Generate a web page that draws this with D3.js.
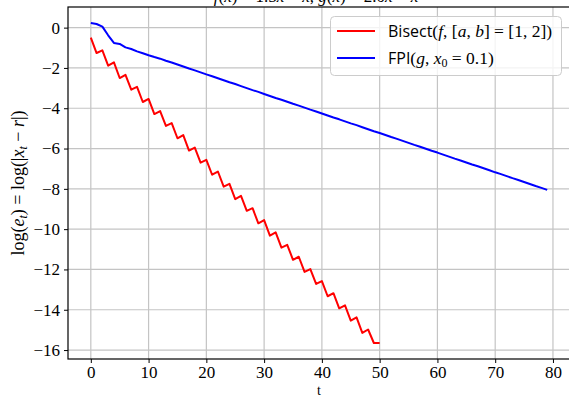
<!DOCTYPE html>
<html><head><meta charset="utf-8">
<script src="https://cdn.jsdelivr.net/npm/d3@7"></script>
<style>
html,body{margin:0;padding:0;background:#fff;}
svg{display:block;}
</style></head>
<body>
<svg id="chart" width="569" height="398"></svg>
<script>
// ---- data ----
const bisectT = d3.range(0, 51);
const bisectLog = [-0.50,-1.26,-1.13,-1.89,-1.72,-2.50,-2.34,-3.08,-2.94,-3.69,
  -3.54,-4.29,-4.14,-4.88,-4.74,-5.49,-5.33,-6.10,-5.95,-6.70,
  -6.56,-7.30,-7.14,-7.89,-7.75,-8.51,-8.35,-9.09,-8.96,-9.71,
  -9.55,-10.32,-10.16,-10.92,-10.78,-11.52,-11.37,-12.12,-11.98,-12.72,
  -12.58,-13.33,-13.18,-13.93,-13.78,-14.54,-14.38,-15.15,-14.98,-15.65,-15.65];
const fpiT = d3.range(0, 80);
const fpiLog = [0.23,0.18,0.05,-0.38,-0.76,-0.81,-0.98,-1.06,-1.18,-1.27,
  -1.37,-1.46,-1.54,-1.64,-1.73,-1.83,-1.93,-2.03,-2.12,-2.22,
  -2.32,-2.41,-2.51,-2.61,-2.71,-2.80,-2.90,-3.00,-3.10,-3.19,
  -3.29,-3.39,-3.49,-3.58,-3.68,-3.78,-3.87,-3.97,-4.07,-4.16,
  -4.26,-4.36,-4.46,-4.55,-4.65,-4.75,-4.84,-4.94,-5.04,-5.14,
  -5.23,-5.33,-5.43,-5.52,-5.62,-5.72,-5.82,-5.91,-6.01,-6.11,
  -6.20,-6.30,-6.40,-6.50,-6.59,-6.69,-6.79,-6.88,-6.98,-7.08,
  -7.18,-7.27,-7.37,-7.47,-7.56,-7.66,-7.76,-7.86,-7.95,-8.05];
const xTicks = [0,10,20,30,40,50,60,70,80];
const yTicks = [0,-2,-4,-6,-8,-10,-12,-14,-16];

// ---- layout ----
const L = 68, R = 570, T = 7, B = 359;
const svg = d3.select("#chart");
const serif = "'Liberation Serif','DejaVu Serif',serif";
const sans = "'Open Sans','DejaVu Sans',sans-serif";

const allX = bisectT.concat(fpiT), allY = bisectLog.concat(fpiLog);
const [x0, x1] = d3.extent(allX), [y0, y1] = d3.extent(allY);
const mx = (x1 - x0) * 0.05, my = (y1 - y0) * 0.05;
const x = d3.scaleLinear().domain([x0 - mx, x1 + mx]).range([L, R]);
const y = d3.scaleLinear().domain([y0 - my, y1 + my]).range([B, T]);

// grid
const g = svg.append("g");
g.selectAll(".gx").data(xTicks).enter().append("line")
  .attr("x1", d => x(d)).attr("x2", d => x(d)).attr("y1", T).attr("y2", B)
  .attr("stroke", "#c4c4c4").attr("stroke-width", 1.2);
g.selectAll(".gy").data(yTicks).enter().append("line")
  .attr("x1", L).attr("x2", R).attr("y1", d => y(d)).attr("y2", d => y(d))
  .attr("stroke", "#c4c4c4").attr("stroke-width", 1.2);

// lines
const line = d3.line().x(d => x(d[0])).y(d => y(d[1]));
svg.append("path").datum(bisectT.map((t, i) => [t, bisectLog[i]]))
  .attr("d", line).attr("fill", "none").attr("stroke", "#ff0000")
  .attr("stroke-width", 2).attr("stroke-linejoin", "round");
svg.append("path").datum(fpiT.map((t, i) => [t, fpiLog[i]]))
  .attr("d", line).attr("fill", "none").attr("stroke", "#0000ff")
  .attr("stroke-width", 2).attr("stroke-linejoin", "round");

// axes
const fmt = d => (d < 0 ? "\u2212" + Math.abs(d) : String(d));
const xAxis = d3.axisBottom(x).tickValues(xTicks).tickSize(4).tickPadding(3).tickFormat(fmt);
const yAxis = d3.axisLeft(y).tickValues(yTicks).tickSize(4).tickPadding(4).tickFormat(fmt);
const gx = svg.append("g").attr("transform", `translate(0,${B})`).call(xAxis);
const gy = svg.append("g").attr("transform", `translate(${L},0)`).call(yAxis);
[gx, gy].forEach(a => {
  a.select(".domain").remove();
  a.selectAll("line").attr("stroke", "#000").attr("stroke-width", 1);
  a.selectAll("text").attr("font-family", serif).attr("font-size", 17).attr("fill", "#000");
});
gx.selectAll("text").attr("dy", "0.72em");
// spines
svg.append("rect").attr("x", L).attr("y", T).attr("width", R - L).attr("height", B - T)
  .attr("fill", "none").attr("stroke", "#000").attr("stroke-width", 1.2);

// axis labels
svg.append("text").attr("x", (L + R) / 2).attr("y", 395).attr("text-anchor", "middle")
  .attr("font-family", serif).attr("font-size", 14).text("t");
const yl = svg.append("text").attr("transform", `translate(24,${(T + B) / 2}) rotate(-90)`)
  .attr("text-anchor", "middle").attr("font-family", serif).attr("font-size", 18);
yl.append("tspan").text("log(");
yl.append("tspan").attr("font-style", "italic").text("e");
yl.append("tspan").attr("font-style", "italic").attr("font-size", 12).attr("dy", 3).text("t");
yl.append("tspan").attr("dy", -3).text(") = log(|");
yl.append("tspan").attr("font-style", "italic").text("x");
yl.append("tspan").attr("font-style", "italic").attr("font-size", 12).attr("dy", 3).text("t");
yl.append("tspan").attr("dy", -3).text(" \u2212 ");
yl.append("tspan").attr("font-style", "italic").text("r");
yl.append("tspan").text("|)");

// title (mostly cut off at top, as in the reference)
const tt = svg.append("text").attr("x", 316).attr("y", 2).attr("text-anchor", "middle")
  .attr("font-family", serif).attr("font-size", 17);
tt.append("tspan").attr("font-style", "italic").text("f");
tt.append("tspan").text("(");
tt.append("tspan").attr("font-style", "italic").text("x");
tt.append("tspan").text(") = 1.5");
tt.append("tspan").attr("font-style", "italic").text("x");
tt.append("tspan").text(" \u2212 ");
tt.append("tspan").attr("font-style", "italic").text("x");
tt.append("tspan").text(", ");
tt.append("tspan").attr("font-style", "italic").text("g");
tt.append("tspan").text("(");
tt.append("tspan").attr("font-style", "italic").text("x");
tt.append("tspan").text(") = 2.0");
tt.append("tspan").attr("font-style", "italic").text("x");
tt.append("tspan").text(" \u2212 ");
tt.append("tspan").attr("font-style", "italic").text("x");

// legend
const lg = svg.append("g");
lg.append("rect").attr("x", 330.5).attr("y", 16.5).attr("width", 231).attr("height", 59)
  .attr("rx", 4).attr("fill", "#fff").attr("fill-opacity", 0.8)
  .attr("stroke", "#cccccc").attr("stroke-width", 1);
lg.append("line").attr("x1", 337).attr("x2", 375).attr("y1", 31).attr("y2", 31)
  .attr("stroke", "#ff0000").attr("stroke-width", 2);
lg.append("line").attr("x1", 337).attr("x2", 375).attr("y1", 58).attr("y2", 58)
  .attr("stroke", "#0000ff").attr("stroke-width", 2);
const t1 = lg.append("text").attr("x", 388).attr("y", 37).attr("font-family", serif).attr("font-size", 17.5);
t1.append("tspan").attr("font-family", sans).attr("font-size", 16).text("Bisect");
t1.append("tspan").text("(");
t1.append("tspan").attr("font-style", "italic").text("f");
t1.append("tspan").text(", [");
t1.append("tspan").attr("font-style", "italic").text("a");
t1.append("tspan").text(", ");
t1.append("tspan").attr("font-style", "italic").text("b");
t1.append("tspan").text("] = [1, 2])");
const t2 = lg.append("text").attr("x", 388).attr("y", 64).attr("font-family", serif).attr("font-size", 17.5);
t2.append("tspan").attr("font-family", sans).attr("font-size", 16).text("FPI");
t2.append("tspan").text("(");
t2.append("tspan").attr("font-style", "italic").text("g");
t2.append("tspan").text(", ");
t2.append("tspan").attr("font-style", "italic").text("x");
t2.append("tspan").attr("font-size", 12).attr("dy", 3).text("0");
t2.append("tspan").attr("dy", -3).text(" = 0.1)");
</script>
</body></html>
